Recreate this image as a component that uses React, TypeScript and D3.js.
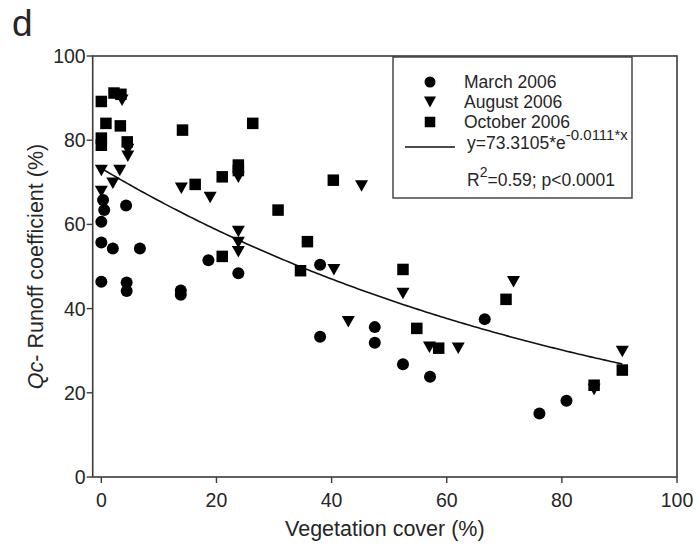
import React from "react";
import * as d3 from "d3";

const xTicks = [0, 20, 40, 60, 80, 100];
const yTicks = [0, 20, 40, 60, 80, 100];

const march: [number, number][] = [
  [0, 46.4], [0, 55.7], [0, 60.6], [0.3, 65.8], [0.5, 63.4], [2, 54.3], [4.3, 64.5],
  [4.4, 46.2], [4.4, 44.2], [6.7, 54.3], [13.8, 44.3], [13.8, 43.3], [18.6, 51.5],
  [23.8, 48.4], [38, 50.4], [38, 33.3], [47.5, 35.6], [47.5, 31.9], [52.4, 26.8],
  [57.1, 23.8], [66.6, 37.5], [76.1, 15.1], [80.8, 18.1],
];

const august: [number, number][] = [
  [0, 72.8], [0, 67.8], [2, 69.8], [3.2, 72.8], [3.6, 89.5], [4.6, 77.8], [4.6, 76.2],
  [13.9, 68.6], [18.9, 66.4], [23.8, 71.2], [23.8, 58.3], [23.8, 55.7], [23.8, 53.5],
  [40.4, 49.2], [42.9, 36.9], [45.2, 69.1], [52.4, 43.6], [57, 30.8], [62, 30.6],
  [71.6, 46.4], [85.6, 20.8], [90.5, 29.8],
];

const october: [number, number][] = [
  [0, 89.2], [0, 80.5], [0, 78.8], [0.8, 84], [2.2, 91.2], [3.4, 90.9], [3.3, 83.4],
  [4.5, 79.6], [14.1, 82.4], [16.3, 69.5], [21, 71.3], [21, 52.4], [23.8, 74.1],
  [23.8, 72.8], [26.3, 84], [30.7, 63.4], [34.6, 49], [35.8, 55.9], [40.3, 70.5],
  [52.4, 49.3], [54.8, 35.3], [58.6, 30.6], [70.3, 42.2], [85.6, 21.8], [90.5, 25.4],
];

const legendLabels = ["March 2006", "August 2006", "October 2006"];
const fitA = 73.3105;
const fitB = -0.0111;
const fitRange = [0, 90.5];

const FONT = "'Liberation Sans', Arial, Helvetica, sans-serif";
const TXT = "#262626";
const AX = "#3a3a3a";

function Circle({ x, y, r = 6 }: { x: number; y: number; r?: number }) {
  return <circle cx={x} cy={y} r={r} fill="#000" />;
}
function Square({ x, y, s = 11.5 }: { x: number; y: number; s?: number }) {
  return <rect x={x - s / 2} y={y - s / 2} width={s} height={s} fill="#000" />;
}
function Tri({ x, y, w = 13, h = 11.5 }: { x: number; y: number; w?: number; h?: number }) {
  const p = `${x - w / 2},${y - h / 2} ${x + w / 2},${y - h / 2} ${x},${y + h / 2}`;
  return <polygon points={p} fill="#000" />;
}

export default function App() {
  const W = 697, H = 553;
  const left = 92.7, right = 677, top = 56, bottom = 477;
  const x = d3.scaleLinear().domain([-1.5, 100]).range([left, right]);
  const y = d3.scaleLinear().domain([0, 100]).range([bottom, top]);

  const fitPts = d3.range(fitRange[0], fitRange[1] + 0.001, 0.5).map((v) => [v, fitA * Math.exp(fitB * v)] as [number, number]);
  const line = d3.line<[number, number]>().x((d) => x(d[0])).y((d) => y(d[1]));

  const lx = 393, ly = 57, lw = 239, lh = 141;

  return (
    <svg width={W} height={H} style={{ position: "absolute", left: 0, top: 0, background: "#fff" }} fontFamily={FONT}>
      <rect x={0} y={0} width={W} height={H} fill="#fff" />
      <text x={12} y={36} fontSize={37} fill={TXT}>d</text>

      {/* frame */}
      <rect x={left} y={top} width={right - left} height={bottom - top} fill="none" stroke={AX} strokeWidth={1.6} />

      {/* y ticks */}
      {yTicks.map((t) => (
        <g key={"y" + t}>
          <line x1={left - 6} x2={left} y1={y(t)} y2={y(t)} stroke={AX} strokeWidth={1.4} />
          <text x={left - 7} y={y(t)} dy="0.36em" textAnchor="end" fontSize={19.5} fill={TXT}>{t}</text>
        </g>
      ))}
      {/* x ticks */}
      {xTicks.map((t) => (
        <g key={"x" + t}>
          <line x1={x(t)} x2={x(t)} y1={bottom} y2={bottom + 6} stroke={AX} strokeWidth={1.4} />
          <text x={x(t)} y={bottom + 30} textAnchor="middle" fontSize={19.5} fill={TXT}>{t}</text>
        </g>
      ))}

      <text x={(left + right) / 2} y={536} textAnchor="middle" fontSize={21.5} fill={TXT}>Vegetation cover (%)</text>
      <text transform={`translate(43,${(top + bottom) / 2}) rotate(-90)`} textAnchor="middle" fontSize={21.5} fill={TXT}>
        <tspan fontStyle="italic">Qc</tspan>- Runoff coefficient (%)
      </text>

      {/* fit line */}
      <path d={line(fitPts) || ""} fill="none" stroke="#111" strokeWidth={1.6} />

      {/* points */}
      {march.map((d, i) => <Circle key={"m" + i} x={x(d[0])} y={y(d[1])} />)}
      {august.map((d, i) => <Tri key={"a" + i} x={x(d[0])} y={y(d[1])} />)}
      {october.map((d, i) => <Square key={"o" + i} x={x(d[0])} y={y(d[1])} />)}

      {/* legend */}
      <rect x={lx} y={ly} width={lw} height={lh} fill="#fff" stroke={AX} strokeWidth={1.4} />
      <Circle x={430} y={82} r={5.5} />
      <Tri x={430} y={102} w={12} h={11} />
      <Square x={430} y={122} s={10.5} />
      {legendLabels.map((l, i) => (
        <text key={l} x={464} y={82 + i * 20} dy="0.36em" fontSize={17.5} fill={TXT}>{l}</text>
      ))}
      <line x1={405} x2={455} y1={147} y2={147} stroke="#111" strokeWidth={1.6} />
      <text x={467} y={149} fontSize={17.5} fill={TXT}>
        y=73.3105*e<tspan dy={-9} fontSize={15}>-0.0111*x</tspan>
      </text>
      <text x={467} y={186} fontSize={17.5} fill={TXT}>
        R<tspan dy={-9} fontSize={14}>2</tspan><tspan dy={9}>=0.59; p&lt;0.0001</tspan>
      </text>
    </svg>
  );
}
